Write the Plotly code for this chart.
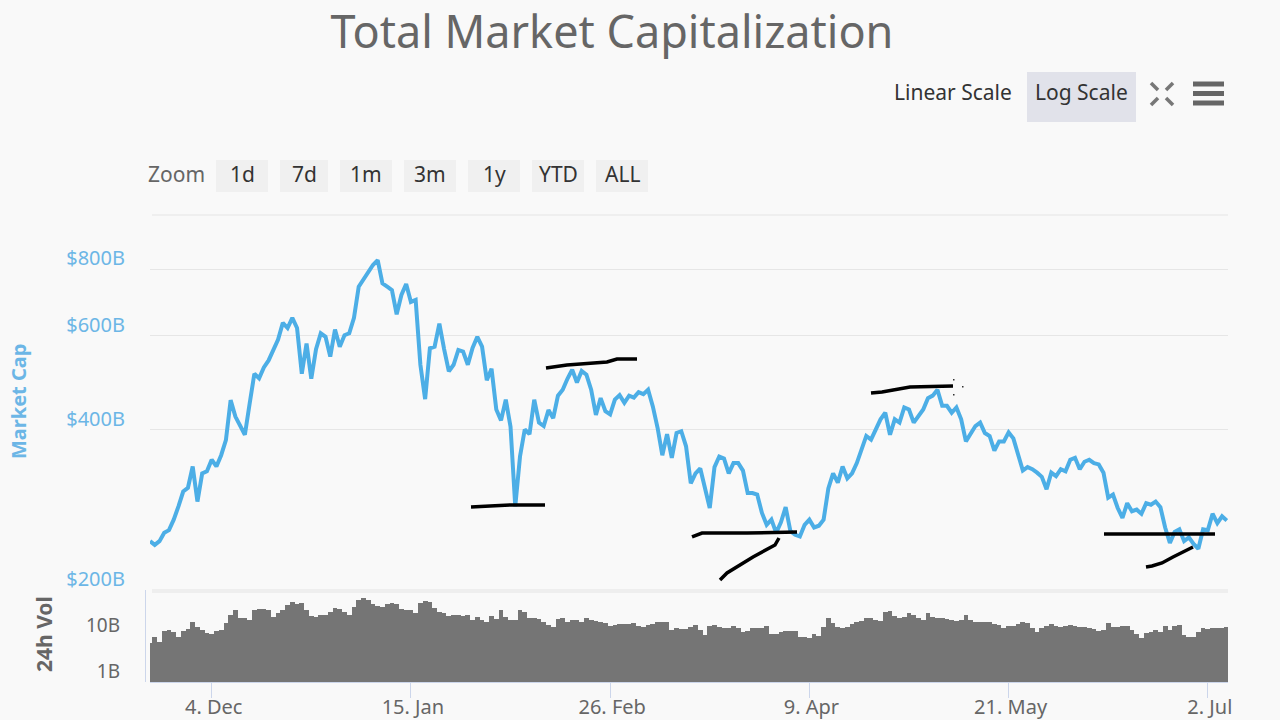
import math
import pandas as pd
import plotly.graph_objects as go

START_DATE = "2017-11-21"
market_cap_b = [
    247,243,247,256,259,271,287,306,311,341,293,331,334,351,341,358,382,454,423,408,
    391,447,509,499,523,539,564,590,634,620,648,620,509,580,498,566,606,597,548,616,
    572,601,606,648,741,765,785,814,831,752,741,730,658,715,750,694,700,529,456,568,
    572,632,566,514,529,564,560,529,569,597,572,495,520,436,416,455,405,287,356,400,
    392,455,412,406,435,420,463,475,498,518,490,515,507,475,426,458,433,427,455,464,
    449,463,459,470,466,475,442,403,358,392,354,394,397,372,317,331,338,308,285,340,
    356,353,331,346,346,335,304,304,302,279,265,271,256,268,286,258,254,252,265,271,
    262,264,271,310,331,318,341,324,331,346,365,389,383,400,418,430,391,418,412,440,
    436,412,424,436,458,463,475,443,443,430,440,418,380,394,406,412,394,389,365,380,
    380,395,385,359,335,340,337,332,326,309,332,327,337,334,351,354,337,348,351,346,
    344,332,298,302,285,273,291,281,283,278,291,289,293,286,262,245,257,260,247,251,
    244,239,260,259,278,267,275,270,
]
volume_b = [
    6.9,9.7,7.5,12.8,13.5,12.4,9.7,12.8,14.2,19.8,16,13.5,11.4,10.9,13,13.5,18.9,28.6,36.8,25,
    24.2,22.3,36.8,38,38,36.8,25.4,31.1,36.8,47.2,55.7,48.9,51.3,36.8,27.7,25.4,28.6,28.6,33.8,39.9,
    38.6,32.8,28.6,43.4,60.5,68,62,48.9,45.7,43.4,48.9,51.3,48.9,38.6,36.8,36.8,31.1,51.3,57.5,55.7,
    39.9,32.8,31.1,27.7,28.6,28.6,27.7,28.6,22.3,25.4,22.3,20.5,27.7,23,36.8,25.4,22.3,22.3,36.8,32.8,
    24.2,24.2,23.4,19.8,17.3,16,23,25,19.8,22.3,22.3,19.8,24.2,22.3,21.2,19.8,19.5,16.8,17.3,17.9,
    17.9,17.9,18.9,16.8,16,17.3,17.9,19.8,19.8,20.5,13.5,14.7,14.2,14.2,16,17.3,13.5,10.5,16.8,17.3,
    16,15.2,14.7,16.8,14.7,12.4,12.8,15.2,15.2,15.2,16.8,10.9,10.9,12,12.8,12.8,12.8,9.7,9.7,9.2,
    10.9,10.2,16,24.2,18.9,16,15.2,16,17.9,19.8,21.2,25,24.2,22.3,21.2,33.8,35,27.7,25,26.3,
    31.1,28.6,24.2,22.3,31.1,26.3,25,24.2,23.4,22.3,21.2,22.3,28.6,22.3,19.8,20.5,20.5,19.8,17.9,17.3,
    15.2,16.8,16.8,17.9,20.5,18.9,14.7,12.4,15.2,16.8,18.5,16.2,16,16.8,17.3,16.5,16,15.7,15.2,14.2,
    12.8,13.5,18.9,16,16,16.8,16.8,13.5,10.9,9.2,11.4,12.4,13.5,12.4,16.8,13.5,16.8,17.3,10.5,9.7,
    9.7,12.4,14.7,14.2,15.2,14.7,15.2,16,
]
x_tick_dates = ["2017-12-04", "2018-01-15", "2018-02-26", "2018-04-09", "2018-05-21", "2018-07-02"]
x_tick_labels = ["4. Dec", "15. Jan", "26. Feb", "9. Apr", "21. May", "2. Jul"]
cap_ticks = [200, 400, 600, 800]
cap_tick_labels = ["$200B", "$400B", "$600B", "$800B"]
vol_ticks = [1, 10]
vol_tick_labels = ["1B", "10B"]
zoom_buttons = ["1d", "7d", "1m", "3m", "1y", "YTD", "ALL"]
zoom_button_edges = [(216, 268), (280, 328), (340, 392), (404, 456), (468, 520), (532, 584), (596, 648)]

# Hand-drawn pen strokes on the screenshot, in page pixels
strokes = [
    [(471, 507), (490, 506), (510, 505), (545, 505)],
    [(546, 368), (567, 365), (607, 362), (617, 359), (637, 359)],
    [(692, 537), (702, 533), (747, 533), (797, 532)],
    [(720, 580), (727, 573), (753, 557), (775, 545), (779, 538)],
    [(871, 393), (882, 392), (910, 387), (953, 386)],
    [(1104, 534), (1215, 534)],
    [(1146, 567), (1152, 566), (1162, 563), (1173, 557), (1193, 547)],
]

FONT = "Noto Sans"
W, H = 1280, 720
BLUE = "#4caee6"
GREY = "#666666"
px = lambda x: x / W
py = lambda y: 1 - y / H

dates = pd.date_range(START_DATE, periods=len(market_cap_b), freq="D")


def rect(x0, x1, y0, y1, color, layer="below"):
    return dict(type="rect", xref="paper", yref="paper", x0=px(x0), x1=px(x1), y0=py(y1), y1=py(y0),
                fillcolor=color, line_width=0, layer=layer)


def poly(points, color, width):
    path = "M " + " L ".join(f"{px(x):.5f} {py(y):.5f}" for x, y in points)
    return dict(type="path", xref="paper", yref="paper", path=path, line=dict(color=color, width=width), layer="above")


def label(text, x, y, size, color, xanchor="center", angle=0):
    return dict(text=text, xref="paper", yref="paper", x=px(x), y=py(y), showarrow=False,
                font=dict(family=FONT, size=size, color=color), xanchor=xanchor, yanchor="middle", textangle=angle)


shapes = [
    rect(152, 1228, 214.5, 215.5, "#e6e6e6"),
    rect(152, 1228, 589, 593, "#eeeeee"),
    rect(145, 146, 590, 682, "#ccd6eb"),
    rect(1027, 1136, 72, 122, "#e1e2ea"),
]
shapes += [rect(a, b, 160, 192, "#f0f0f0") for a, b in zoom_button_edges]
shapes += [poly(s, "black", 3.5) for s in strokes]
for cy in (84, 93.5, 103):
    shapes.append(rect(1193, 1224, cy - 2.5, cy + 2.5, GREY, "above"))
for ax, ay, bx, by in [(1151, 83, 1158, 90), (1173, 83, 1166, 90), (1151, 105, 1158, 98), (1173, 105, 1166, 98)]:
    shapes.append(poly([(ax, ay), (bx, by)], "#777777", 3.5))
for dx, dy in [(953, 379), (953, 394), (962, 386)]:
    shapes.append(rect(dx, dx + 1.5, dy, dy + 1.5, "#333333", "above"))

annotations = [
    label("Linear Scale", 952.5, 92, 21, "#333333"),
    label("Log Scale", 1081, 92, 21, "#333333"),
    label("Zoom", 176.5, 174, 21, GREY),
    label("<b>Market Cap</b>", 18, 402, 20, "#6cb6e6", angle=-90),
    label("<b>24h Vol</b>", 44, 634, 21, GREY, angle=-90),
]
for text, (a, b) in zip(zoom_buttons, zoom_button_edges):
    annotations.append(label(text, (a + b) / 2, 174, 21, "#333333"))

fig = go.Figure()
fig.add_trace(go.Scatter(x=dates, y=market_cap_b, mode="lines", name="Market Cap",
                         line=dict(color=BLUE, width=4), xaxis="x", yaxis="y"))
fig.add_trace(go.Bar(x=dates, y=volume_b, name="24h Vol", marker=dict(color="#757575", line_width=0),
                     xaxis="x2", yaxis="y2"))

x_range = [START_DATE, "2018-07-06 06:00"]
fig.update_layout(
    width=W, height=H, margin=dict(l=0, r=0, t=0, b=0), autosize=False,
    paper_bgcolor="#f9f9f9", plot_bgcolor="#f9f9f9", showlegend=False, bargap=0,
    title=dict(text="Total Market Capitalization", x=612 / W, xanchor="center", y=1 - 32 / H, yanchor="middle",
               font=dict(family=FONT, size=45, color="#666666")),
    xaxis=dict(domain=[px(150), px(1228)], range=x_range, type="date", anchor="y", visible=False, automargin=False),
    xaxis2=dict(domain=[px(150), px(1228)], range=x_range, type="date", anchor="y2", automargin=False,
                tickvals=x_tick_dates, ticktext=x_tick_labels, ticks="outside", ticklen=15, tickcolor="#ccd6eb",
                showline=True, linecolor="#ccd6eb", showgrid=False, zeroline=False,
                ticklabelstandoff=-8, ticklabelshift=2,
                tickfont=dict(family=FONT, size=20, color=GREY)),
    yaxis=dict(domain=[py(590), py(215)], type="log", anchor="x", automargin=False,
               range=[math.log10(200), math.log10(800) + 54 / 533.2],
               tickvals=cap_ticks, ticktext=cap_tick_labels, gridcolor="#e6e6e6", gridwidth=1,
               showline=False, zeroline=False, ticks="", ticklabelstandoff=24, ticklabelshift=-11,
               tickfont=dict(family=FONT, size=20, color="#6cb6e6")),
    yaxis2=dict(domain=[py(682), py(590)], type="log", anchor="x2", range=[0, 2], automargin=False,
                tickvals=vol_ticks, ticktext=vol_tick_labels, showgrid=False,
                showline=False, zeroline=False, ticks="", ticklabelstandoff=29, ticklabelshift=-11,
                tickfont=dict(family=FONT, size=19, color=GREY)),
    shapes=shapes, annotations=annotations,
)
fig.write_html("out.html", config=dict(displayModeBar=False),
               post_script="document.body.style.margin='0';document.body.style.overflow='hidden';")
